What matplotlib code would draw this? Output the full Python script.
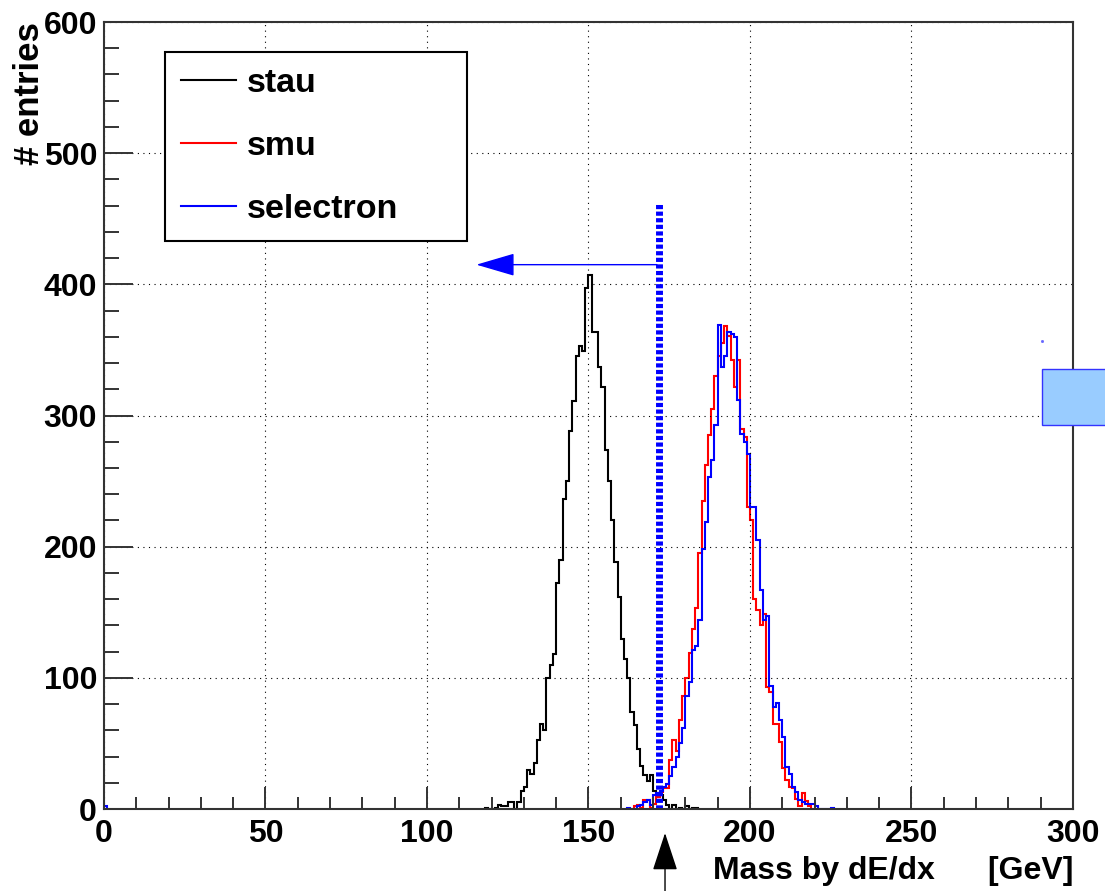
import numpy as np
import matplotlib
matplotlib.use("Agg")
import matplotlib.pyplot as plt
from matplotlib.patches import Rectangle, ArrowStyle

plt.rcParams['font.family'] = ['Liberation Sans', 'DejaVu Sans']

# entries per 1 GeV bin
stau_first_bin = 118
stau_counts = [1, 0, 0, 1, 3, 2, 2, 5, 5, 0, 5, 14, 17, 30, 27, 35, 53, 65, 60, 100,
               110, 118, 172, 190, 236, 250, 288, 311, 345, 353, 349, 397, 407, 364,
               364, 337, 322, 274, 250, 220, 188, 162, 130, 114, 100, 74, 64, 46, 33,
               26, 21, 26, 14, 12, 11, 7, 3, 0, 3, 0, 1, 0, 2, 0, 1, 1]
smu_first_bin = 164
smu_counts = [2, 3, 1, 7, 7, 1, 4, 9, 13, 16, 16, 37, 53, 44, 68, 86, 100, 119, 137,
              153, 195, 235, 262, 285, 305, 330, 345, 355, 368, 361, 342, 322, 342,
              290, 284, 230, 220, 160, 152, 140, 149, 93, 89, 65, 65, 51, 31, 22, 17,
              16, 8, 2, 12, 6, 2]
selectron_first_bin = 162
selectron_counts = [1, 0, 0, 2, 3, 5, 7, 3, 11, 12, 14, 17, 19, 25, 32, 40, 50, 62, 86,
                    97, 121, 124, 144, 198, 219, 253, 266, 293, 369, 337, 345, 364, 362,
                    360, 312, 286, 280, 271, 230, 230, 205, 167, 144, 147, 94, 78, 81,
                    68, 55, 32, 27, 17, 13, 7, 5, 4, 4, 4, 2, 0, 0, 0, 0, 1]
selectron_bin0 = [2]

x_ticks = [0, 50, 100, 150, 200, 250, 300]
y_ticks = [0, 100, 200, 300, 400, 500, 600]

cut_mass = 171.8      # dotted cut line
cut_top = 462
arrow_y = 415         # "stau side" arrow
arrow_tip = 115.3
marker_mass = 173.7   # arrow under the axis


def edges(first, counts):
    return np.arange(first, first + len(counts) + 1)


fig = plt.figure(figsize=(11.05, 8.91), dpi=100)
ax = fig.add_axes([0.0941, 0.0920, 0.8769, 0.8833])

ax.stairs(stau_counts, edges(stau_first_bin, stau_counts), color='black', lw=1.5, label='stau')
ax.stairs(smu_counts, edges(smu_first_bin, smu_counts), color='red', lw=1.5, label='smu')
ax.stairs(selectron_counts, edges(selectron_first_bin, selectron_counts), color='blue',
          lw=1.5, label='selectron')
ax.stairs(selectron_bin0, [0, 1], color='blue', lw=1.5)

ax.set_xlim(0, 300)
ax.set_ylim(0, 600)
ax.set_xticks(x_ticks)
ax.set_xticks(np.arange(0, 301, 10), minor=True)
ax.set_yticks(y_ticks)
ax.set_yticks(np.arange(0, 601, 20), minor=True)

ax.tick_params(which='both', direction='in', top=False, right=False, width=1.4, color='#333333')
ax.tick_params(axis='x', which='major', length=16, pad=7, labelsize=23)
ax.tick_params(axis='x', which='minor', length=8.5)
ax.tick_params(axis='y', which='major', length=21, pad=5, labelsize=23)
ax.tick_params(axis='y', which='minor', length=11)
for lab in ax.get_xticklabels() + ax.get_yticklabels():
    lab.set_fontweight('bold')

ax.grid(True, which='major', color='black', lw=0.8, linestyle=(0, (1, 4)))
for s in ax.spines.values():
    s.set_linewidth(1.5)
    s.set_color('#333333')

ax.set_xlabel('Mass by dE/dx      [GeV]', loc='right', fontsize=23, fontweight='bold', labelpad=5)
ax.set_ylabel('# entries', loc='top', fontsize=25, fontweight='bold', labelpad=-2)

leg = ax.legend(loc='upper left', bbox_to_anchor=(0.063, 0.7243, 0.3117, 0.2377), mode='expand',
                borderaxespad=0, fancybox=False, edgecolor='black', framealpha=1,
                prop=dict(weight='bold', size=24.5), handlelength=1.6, handletextpad=0.33,
                labelspacing=0.93, borderpad=0.48)
leg.get_frame().set_linewidth(1.5)

# cut line and arrows
ax.plot([cut_mass, cut_mass], [0, cut_top], color='blue', lw=5,
        linestyle=(0, (0.6, 0.35)), solid_capstyle='butt')
ax.annotate('', xy=(arrow_tip, arrow_y), xytext=(cut_mass - 0.6, arrow_y),
            arrowprops=dict(arrowstyle=ArrowStyle('-|>', head_length=2.45, head_width=0.72),
                            mutation_scale=10, color='blue', lw=1, shrinkA=0, shrinkB=0))
ax.annotate('', xy=(marker_mass, -18.3), xytext=(marker_mass, -63), annotation_clip=False,
            arrowprops=dict(arrowstyle=ArrowStyle('-|>', head_length=2.4, head_width=0.79),
                            mutation_scale=10, color='black', lw=1, shrinkA=0, shrinkB=0))

# stray box at the right edge
ax.add_patch(Rectangle((290.4, 292.7), 20, 42.7, facecolor='#99ccff', edgecolor='#3333ff',
                       lw=1, clip_on=False, zorder=5))
ax.plot(290.4, 356.8, marker='s', ms=1, color='#6666ff', clip_on=False)

fig.savefig('out.png', dpi=100)
